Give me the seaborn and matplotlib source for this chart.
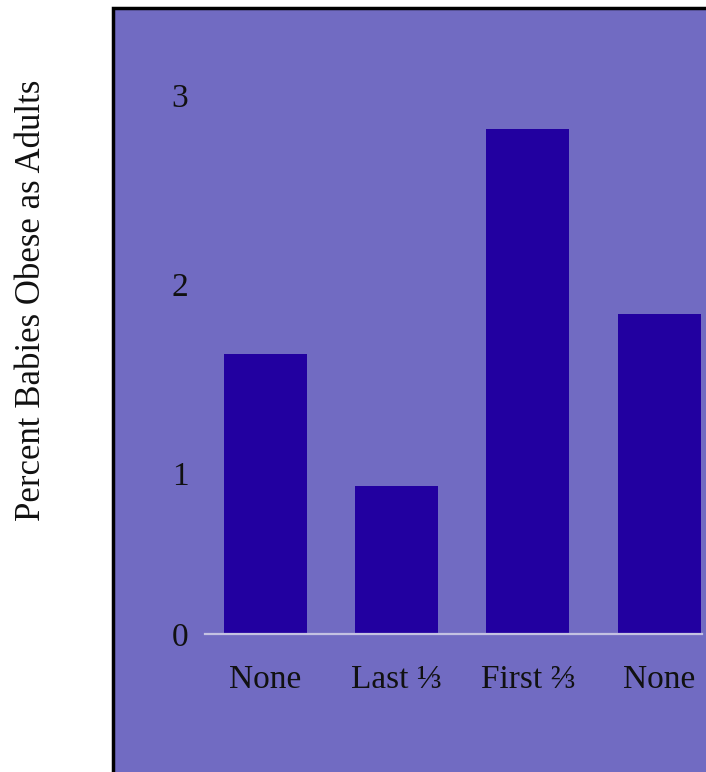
import matplotlib
matplotlib.use("Agg")
import matplotlib.pyplot as plt
import seaborn as sns
import pandas as pd
from matplotlib.patches import Rectangle

# ---- data ----
categories = ["None", "Last \u2153", "First \u2154", "None"]
values = [1.63, 0.93, 2.82, 1.84]
ytick_values = [1, 2, 3]
ytick_labels = ["0", "1", "2", "3"]
ylabel = "Percent Babies Obese as Adults"

# ---- style ----
sns.set_theme(style="white")
plt.rcParams["font.family"] = ["Liberation Serif", "DejaVu Serif"]
PANEL = "#716bc2"
BAR = "#2200a0"
TXT = "#111111"

W, H = 706, 772
fig = plt.figure(figsize=(W / 100, H / 100), dpi=100)
fig.patch.set_facecolor("white")

# background panel (extends past right and bottom edges)
panel = Rectangle((113 / W, -20 / H), (760 - 113) / W, (772 - 8 + 20) / H,
                  transform=fig.transFigure, facecolor=PANEL, edgecolor="black",
                  linewidth=2.5, zorder=-5)
fig.patches.append(panel)

# plotting axes
ax = fig.add_axes([205 / W, (H - 634) / H, (702 - 205) / W, (634 - 8) / H])
ax.set_facecolor("none")
ax.set_zorder(5)

df = pd.DataFrame({"slot": list(range(len(categories))), "value": values})
sns.barplot(data=df, x="slot", y="value", color=BAR, saturation=1,
            width=0.633, ax=ax, zorder=2, edgecolor=BAR, linewidth=0)

ybottom = 0.148
ax.set_ylim(ybottom, 3.46)
ax.set_xlim(-0.461, 3.327)
ax.set_yticks([ybottom] + ytick_values)
ax.set_yticklabels(ytick_labels)
ax.set_xticks(range(len(categories)))
ax.set_xticklabels(categories)
ax.tick_params(axis="y", length=0, pad=12, labelsize=24, labelcolor=TXT)
ax.tick_params(axis="x", length=0, pad=22, labelsize=24, labelcolor=TXT)
ax.set_xlabel("")
ax.set_ylabel("")

for s in ["top", "right", "left"]:
    ax.spines[s].set_visible(False)
ax.spines["bottom"].set_color("#c4c2e2")
ax.spines["bottom"].set_linewidth(1.6)

fig.text(32 / W, 1 - 300 / H, ylabel, rotation=90, ha="center", va="center",
         fontsize=25, color=TXT)

fig.savefig("out.png", dpi=100, facecolor="white")
